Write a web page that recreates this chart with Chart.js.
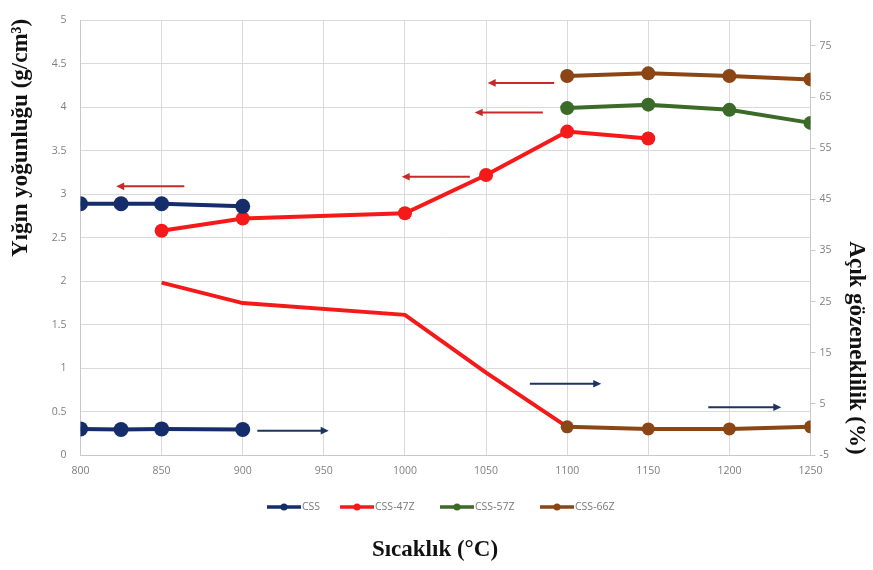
<!DOCTYPE html>
<html>
<head>
<meta charset="utf-8">
<script src="https://cdn.jsdelivr.net/npm/chart.js@4.4.1/dist/chart.umd.min.js"></script>
<style>
  html, body { margin: 0; padding: 0; background: #ffffff; }
  #wrap { width: 873px; height: 570px; position: relative; }
</style>
</head>
<body>
<div id="wrap"><canvas id="chart" width="873" height="570"></canvas></div>
<script>
// Sintering temperatures (°C)
const cssTemps = [800, 825, 850, 900];
const z47Temps = [850, 900, 1000, 1050, 1100, 1150];
const z47PorosityTemps = [850, 900, 1000, 1050, 1100];
const highTemps = [1100, 1150, 1200, 1250];

// Bulk density (g/cm3), left axis
const cssDensity = [2.89, 2.89, 2.89, 2.86];
const z47Density = [2.58, 2.72, 2.78, 3.22, 3.72, 3.64];
const z57Density = [3.99, 4.03, 3.97, 3.82];
const z66Density = [4.36, 4.39, 4.36, 4.32];

// Apparent porosity (%), right axis
const cssPorosity = [0.1, 0.0, 0.1, 0.0];
const z47Porosity = [28.7, 24.7, 22.4, 11.1, 0.5];
const z66Porosity = [0.5, 0.1, 0.1, 0.5];

// Tick labels
const xTicks = [800, 850, 900, 950, 1000, 1050, 1100, 1150, 1200, 1250];
const densityTicks = [0, 0.5, 1, 1.5, 2, 2.5, 3, 3.5, 4, 4.5, 5];
const porosityTicks = [-5, 5, 15, 25, 35, 45, 55, 65, 75];

// Series names and colours
const seriesNames = ['CSS', 'CSS-47Z', 'CSS-57Z', 'CSS-66Z'];
const seriesColors = ['#152d6a', '#f51a1a', '#3c6a29', '#8a4615'];

// Axis hint arrows (temperature from -> to, level on the density axis)
const densityArrows = [
  { from: 864, to: 822, y: 3.09 },
  { from: 1040, to: 998, y: 3.20 },
  { from: 1085, to: 1043, y: 3.94 },
  { from: 1092, to: 1051, y: 4.28 }
];
const porosityArrows = [
  { from: 909, to: 953, y: 0.28 },
  { from: 1077, to: 1121, y: 0.82 },
  { from: 1187, to: 1232, y: 0.55 }
];

const pts = (xs, ys) => xs.map((x, i) => ({ x: x, y: ys[i] }));

const tickFont = { family: '"Open Sans", "Liberation Sans", sans-serif', size: 10.5 };
const tickColor = '#7f7f7f';
const gridColor = '#dadada';
const titleFont = 'bold 23px "Liberation Serif", "DejaVu Serif", serif';

function lineSet(label, data, color, axis, radius, order) {
  return {
    label: label,
    data: data,
    yAxisID: axis,
    borderColor: color,
    backgroundColor: color,
    pointBackgroundColor: color,
    pointBorderColor: color,
    borderWidth: 4,
    pointRadius: radius,
    pointBorderWidth: 0,
    pointHoverRadius: radius,
    tension: 0,
    order: order
  };
}

function drawArrow(ctx, x0, x1, y, color) {
  const dir = Math.sign(x1 - x0);
  ctx.save();
  ctx.strokeStyle = color;
  ctx.fillStyle = color;
  ctx.lineWidth = 2;
  ctx.beginPath();
  ctx.moveTo(x0, y);
  ctx.lineTo(x1 - dir * 6, y);
  ctx.stroke();
  ctx.beginPath();
  ctx.moveTo(x1, y);
  ctx.lineTo(x1 - dir * 8, y - 3.8);
  ctx.lineTo(x1 - dir * 8, y + 3.8);
  ctx.closePath();
  ctx.fill();
  ctx.restore();
}

const decorPlugin = {
  id: 'decor',
  afterDatasetsDraw(chart) {
    const ctx = chart.ctx;
    const xs = chart.scales.x;
    const ys = chart.scales.y;
    densityArrows.forEach(a => drawArrow(ctx, xs.getPixelForValue(a.from), xs.getPixelForValue(a.to), ys.getPixelForValue(a.y), '#c62a2a'));
    porosityArrows.forEach(a => drawArrow(ctx, xs.getPixelForValue(a.from), xs.getPixelForValue(a.to), ys.getPixelForValue(a.y), '#1d3461'));
  },
  afterDraw(chart) {
    const ctx = chart.ctx;
    ctx.save();
    // legend
    const legendX = [267, 340, 440, 540];
    const legendY = 507;
    ctx.font = '10.5px "Open Sans", "Liberation Sans", sans-serif';
    ctx.textBaseline = 'middle';
    ctx.textAlign = 'left';
    seriesNames.forEach((name, i) => {
      const x = legendX[i];
      ctx.strokeStyle = seriesColors[i];
      ctx.fillStyle = seriesColors[i];
      ctx.lineWidth = 3.5;
      ctx.beginPath();
      ctx.moveTo(x, legendY);
      ctx.lineTo(x + 34, legendY);
      ctx.stroke();
      ctx.beginPath();
      ctx.arc(x + 17, legendY, 3.5, 0, Math.PI * 2);
      ctx.fill();
      ctx.fillStyle = '#7a7a7a';
      ctx.fillText(name, x + 35, legendY);
    });

    // axis titles
    ctx.fillStyle = '#111111';
    ctx.font = titleFont;
    ctx.textAlign = 'center';
    ctx.textBaseline = 'middle';
    ctx.fillText('Sıcaklık (°C)', 435, 550);

    ctx.save();
    ctx.translate(21, 138);
    ctx.rotate(-Math.PI / 2);
    ctx.fillText('Yığın yoğunluğu (g/cm³)', 0, 0);
    ctx.restore();

    ctx.save();
    ctx.translate(856, 348);
    ctx.rotate(Math.PI / 2);
    ctx.fillText('Açık gözeneklilik (%)', 0, 0);
    ctx.restore();

    ctx.restore();
  }
};

new Chart(document.getElementById('chart'), {
  type: 'line',
  data: {
    datasets: [
      lineSet('CSS', pts(cssTemps, cssDensity), seriesColors[0], 'y', 7.5, 1),
      lineSet('CSS', pts(cssTemps, cssPorosity), seriesColors[0], 'y2', 7.5, 1),
      lineSet('CSS-47Z', pts(z47Temps, z47Density), seriesColors[1], 'y', 7, 2),
      lineSet('CSS-47Z', pts(z47PorosityTemps, z47Porosity), seriesColors[1], 'y2', 0, 5),
      lineSet('CSS-57Z', pts(highTemps, z57Density), seriesColors[2], 'y', 7, 1),
      lineSet('CSS-66Z', pts(highTemps, z66Density), seriesColors[3], 'y', 7, 1),
      lineSet('CSS-66Z', pts(highTemps, z66Porosity), seriesColors[3], 'y2', 6.5, 0)
    ]
  },
  options: {
    responsive: false,
    animation: false,
    layout: { padding: { top: 7.5, left: 0, right: 0, bottom: 0 } },
    plugins: { legend: { display: false }, tooltip: { enabled: false } },
    scales: {
      x: {
        type: 'linear',
        min: 800,
        max: 1250,
        afterBuildTicks: s => { s.ticks = xTicks.map(v => ({ value: v })); },
        afterFit: s => { s.height = 115; },
        ticks: { font: tickFont, color: tickColor, padding: 10, maxRotation: 0, callback: v => String(v) },
        grid: { color: gridColor, drawTicks: false },
        border: { color: '#c8c8c8' }
      },
      y: {
        position: 'left',
        min: 0,
        max: 5,
        afterBuildTicks: s => { s.ticks = densityTicks.map(v => ({ value: v })); },
        afterFit: s => { s.width = 80.5; },
        ticks: { font: tickFont, color: tickColor, padding: 14, callback: v => String(v) },
        grid: { color: gridColor, drawTicks: false },
        border: { color: '#c8c8c8' }
      },
      y2: {
        position: 'right',
        min: -5,
        max: 80,
        afterBuildTicks: s => { s.ticks = porosityTicks.map(v => ({ value: v })); },
        afterFit: s => { s.width = 62.5; },
        ticks: { font: tickFont, color: tickColor, padding: 4, callback: v => String(v) },
        grid: { drawOnChartArea: false, color: '#c8c8c8', tickLength: 5 },
        border: { color: '#c8c8c8' }
      }
    }
  },
  plugins: [decorPlugin]
});
</script>
</body>
</html>
